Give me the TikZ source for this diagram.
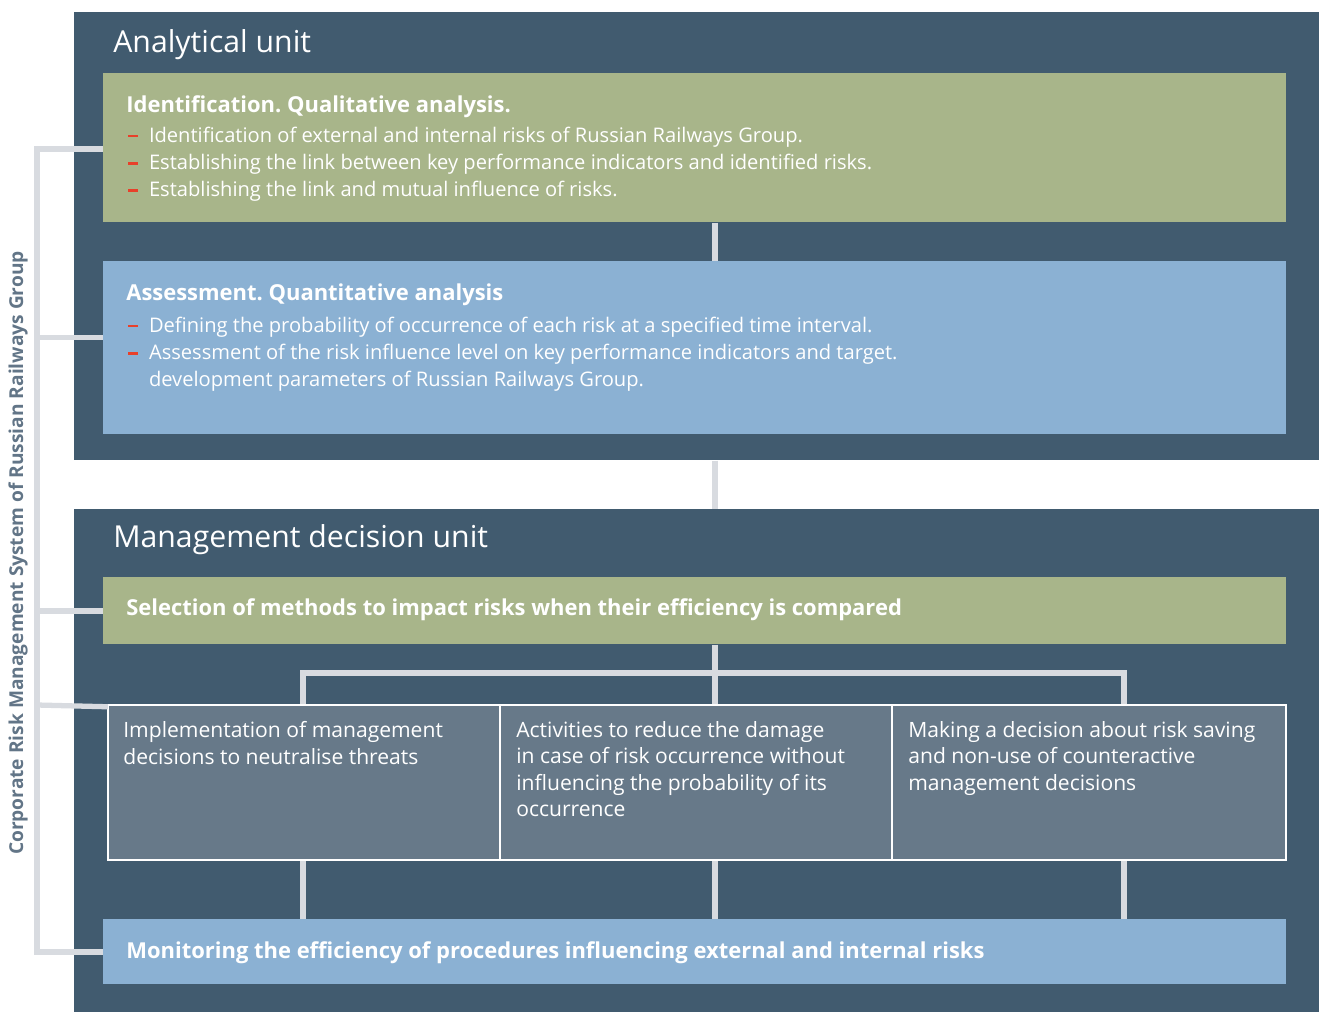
\documentclass[tikz,border=0pt]{standalone}
\usepackage{fontspec}
\setmainfont{Open Sans}
\usepackage{xcolor}
\definecolor{Panel}{HTML}{415B6F}
\definecolor{Sage}{HTML}{A8B58A}
\definecolor{Sky}{HTML}{8BB1D3}
\definecolor{Slate}{HTML}{677989}
\definecolor{Link}{HTML}{D8DBE0}
\definecolor{Dash}{HTML}{E8402A}
\definecolor{Side}{HTML}{627587}
\usepackage{tikz}
\usetikzlibrary{positioning,calc}
\frenchspacing
\newcommand{\rdash}{\makebox[12.9pt][l]{\hspace{1pt}\textcolor{Dash}{\rule[3pt]{5.6pt}{1.3pt}}}}
\newcommand{\rskip}{\makebox[12.9pt][l]{}}
\tikzset{
  panel/.style={fill=Panel,anchor=north west,inner sep=0pt,minimum width=1245*0.02cm},
  block/.style={anchor=north west,inner sep=0pt,minimum width=1183*0.02cm},
  green/.style={block,fill=Sage},
  blue/.style={block,fill=Sky},
  choice/.style={fill=Slate,draw=white,line width=1.2pt,anchor=north west,inner sep=0pt,
    outer sep=0pt,minimum height=155*0.02cm},
  unittitle/.style={anchor=base west,inner sep=0pt,text=white,font=\fontsize{17.2}{20}\selectfont},
  head/.style={anchor=base west,inner sep=0pt,text=white,font=\fontsize{12.5}{15}\selectfont\bfseries},
  body/.style={anchor=north west,inner sep=0pt,text=white,align=left,
    font=\fontsize{11.45}{15.4}\selectfont},
  boxtext/.style={body,font=\fontsize{12}{15.1}\selectfont},
  link/.style={draw=Link,line width=3pt}
}

\begin{document}
\begin{tikzpicture}[x=0.02cm,y=-0.02cm]
\useasboundingbox (0,0) rectangle (1319,1012);
% units
\node[panel,minimum height=448*0.02cm] (ana) at (74,12) {};
\node[panel,minimum height=503*0.02cm] (mgmt) at (74,509) {};
\node[unittitle] (anatitle) at (113,52) {Analytical unit};
\node[unittitle] (mgmttitle) at (113,547) {Management decision unit};

% analytical unit
\node[green,minimum height=149*0.02cm] (ident) at (103,73) {};
\node[blue,minimum height=173*0.02cm] (assess) at (103,261) {};
\node[head] (identhead) at (126,112) {Identification. Qualitative analysis.};
\node[body] (identtext) at (126,127) {%
  \rdash Identification of external and internal risks of Russian Railways Group.\\
  \rdash Establishing the link between key performance indicators and identified risks.\\
  \rdash Establishing the link and mutual influence of risks.};
\node[head] (assesshead) at (126,300) {Assessment. Quantitative analysis};
\node[body] (assesstext) at (126,317) {%
  \rdash Defining the probability of occurrence of each risk at a specified time interval.\\
  \rdash Assessment of the risk influence level on key performance indicators and target.\\
  \rskip development parameters of Russian Railways Group.};

% management decision unit
\node[green,minimum height=67*0.02cm] (select) at (103,577) {};
\node[head] (selecthead) at (126,615) {Selection of methods to impact risks when their efficiency is compared};
\node[choice,minimum width=392*0.02cm] (neutral) at (108,705) {};
\node[choice,minimum width=392*0.02cm,right=0pt of neutral] (reduce) {};
\node[choice,minimum width=394*0.02cm,right=0pt of reduce] (accept) {};
\node[boxtext] (neutraltext) at (123,721) {Implementation of management\\decisions to neutralise threats};
\node[boxtext] (reducetext) at (516,721) {Activities to reduce the damage\\in case of risk occurrence without\\influencing the probability of its\\occurrence};
\node[boxtext] (accepttext) at (908,721) {Making a decision about risk saving\\and non-use of counteractive\\management decisions};
\node[blue,minimum height=65*0.02cm] (monitor) at (103,919) {};
\node[head] (monitorhead) at (126,958) {Monitoring the efficiency of procedures influencing external and internal risks};

% side label
\node[rotate=90,text=Side,font=\fontsize{10.9}{12}\selectfont\bfseries] (system) at (18,553)
  {Corporate Risk Management System of Russian Railways Group};

% connectors
\coordinate (rail) at (37,149);
\coordinate (tapL) at (303,673);
\coordinate (tapM) at (715,673);
\coordinate (tapR) at (1124,673);
\draw[link] (tapM |- ident.south) -- (tapM |- assess.north);
\draw[link] (tapM |- ana.south) -- (tapM |- mgmt.north);
\draw[link] (tapM |- select.south) -- (tapM);
\draw[link,line cap=rect] (tapL) -- (tapR);
\draw[link] (tapL) -- (tapL |- neutral.north);
\draw[link] (tapM) -- (tapM |- reduce.north);
\draw[link] (tapR) -- (tapR |- accept.north);
\draw[link] (tapL |- neutral.south) -- (tapL |- monitor.north);
\draw[link] (tapM |- reduce.south) -- (tapM |- monitor.north);
\draw[link] (tapR |- accept.south) -- (tapR |- monitor.north);
\draw[link] (ident.west |- rail) -- (rail) |- (monitor.west);
\draw[link] ($(assess.west)+(0,-10)$) -- ($(assess.west -| rail)+(0,-10)$);
\draw[link] (select.west) -- (select.west -| rail);
\draw[link] ([yshift=-1pt]neutral.north west) -- (neutral.north west -| rail);
% keep the frame lines of the choices above the links
\draw[white,line width=1.2pt] (neutral.north west) -- (accept.north east);
\draw[white,line width=1.2pt] (neutral.south west) -- (accept.south east);
\end{tikzpicture}
\end{document}
